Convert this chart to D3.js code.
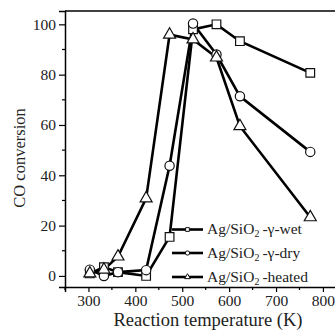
<!DOCTYPE html>
<html>
<head>
<meta charset="utf-8">
<script src="https://cdn.jsdelivr.net/npm/d3@7"></script>
<style>
  body { margin: 0; background: #fff; }
  svg { display: block; font-family: "Liberation Serif", "Times New Roman", serif; }
</style>
</head>
<body>
<svg width="335" height="331"></svg>
<script>
// reaction temperatures (K)
let temps = [303, 333, 363, 423, 473, 523, 573, 623, 773]

// CO conversion (%)
let wet    = [1, 3.5, 1.5, 0, 15.5, 98, 100, 93.3, 80.7]
let dry    = [2.5, 0, 1.5, 2.3, 43.8, 100.3, 88, 71.4, 49.3]
let heated = [1, 2.5, 7.7, 30.8, 95.9, 94, 86.8, 59.5, 23.3]

let xTicks = [300, 400, 500, 600, 700, 800]
let yTicks = [0, 20, 40, 60, 80, 100]

let series = [
    { name: '-γ-wet', values: wet, shape: d3.symbolSquare, size: 75 },
    { name: '-γ-dry', values: dry, shape: d3.symbolCircle, size: 68 },
    { name: '-heated', values: heated, shape: d3.symbolTriangle, size: 62 }
]

let svg = d3.select('svg')

let scale = {
    x: d3.scaleLinear().domain([250, 830]).range([65, 337]),
    y: d3.scaleLinear().domain([-4.4, 105.3]).range([287, 11])
}

// top frame line
svg.append('line')
    .attr('x1', 65).attr('x2', 337).attr('y1', 11).attr('y2', 11)
    .attr('stroke', '#000').attr('stroke-width', 1.5)

let axis = {
    x: d3.axisBottom(scale.x).tickValues(xTicks).tickSize(5).tickPadding(3),
    y: d3.axisLeft(scale.y).tickValues(yTicks).tickSize(6).tickPadding(3)
}

// minor ticks
let xMinor = d3.range(250, 850, 100)
let yMinor = d3.range(10, 110, 20)

let gx = svg.append('g')
    .attr('transform', 'translate(0,287)')
    .call(axis.x)
gx.selectAll('.minor').data(xMinor).enter().append('line')
    .attr('x1', d => scale.x(d)).attr('x2', d => scale.x(d))
    .attr('y1', 0).attr('y2', 3)
    .attr('stroke', '#000').attr('stroke-width', 1.2)

let gy = svg.append('g')
    .attr('transform', 'translate(65,0)')
    .call(axis.y)
gy.selectAll('.minor').data(yMinor).enter().append('line')
    .attr('y1', d => scale.y(d)).attr('y2', d => scale.y(d))
    .attr('x1', 0).attr('x2', -3)
    .attr('stroke', '#000').attr('stroke-width', 1.2)

svg.selectAll('.domain').attr('stroke', '#000').attr('stroke-width', 1.5)
svg.selectAll('.tick line').attr('stroke', '#000').attr('stroke-width', 1.2)
svg.selectAll('.tick text')
    .attr('font-family', '"Liberation Serif", serif')
    .attr('font-size', 15.5)
    .attr('fill', '#222')

// axis labels
svg.append('text')
    .attr('x', 208).attr('y', 326)
    .attr('text-anchor', 'middle')
    .attr('font-size', 18.5)
    .attr('fill', '#222')
    .text('Reaction temperature (K)')

svg.append('text')
    .attr('transform', 'translate(25,158) rotate(-90)')
    .attr('text-anchor', 'middle')
    .attr('font-size', 16.5)
    .attr('fill', '#222')
    .text('CO conversion')

let line = d3.line()
    .x((d, i) => scale.x(temps[i]))
    .y(d => scale.y(d))

series.forEach(s => {
    svg.append('path')
        .datum(s.values)
        .attr('d', line)
        .attr('fill', 'none')
        .attr('stroke', '#000')
        .attr('stroke-width', 2.6)
})

series.forEach(s => {
    svg.selectAll(null)
        .data(s.values)
        .enter()
        .append('path')
        .attr('d', d3.symbol().type(s.shape).size(s.size))
        .attr('transform', (d, i) => `translate(${scale.x(temps[i])},${scale.y(d)})`)
        .attr('fill', '#fff')
        .attr('stroke', '#111')
        .attr('stroke-width', 1.2)
})

// legend
let legend = svg.append('g')
let rows = [229.5, 253, 277]
series.forEach((s, i) => {
    let y = rows[i]
    legend.append('line')
        .attr('x1', 172).attr('x2', 203).attr('y1', y).attr('y2', y)
        .attr('stroke', '#000').attr('stroke-width', 2.6)
    legend.append('path')
        .attr('d', d3.symbol().type(s.shape).size(14))
        .attr('transform', `translate(187.5,${y})`)
        .attr('fill', '#fff').attr('stroke', '#111').attr('stroke-width', 1)
    let t = legend.append('text')
        .attr('x', 207).attr('y', y + 4.5)
        .attr('font-size', 15.5)
        .attr('fill', '#222')
    t.append('tspan').text('Ag/SiO')
    t.append('tspan').attr('font-size', 10).attr('dy', 3).text('2')
    t.append('tspan').attr('dy', -3).attr('dx', 3).text(s.name)
})
</script>
</body>
</html>
